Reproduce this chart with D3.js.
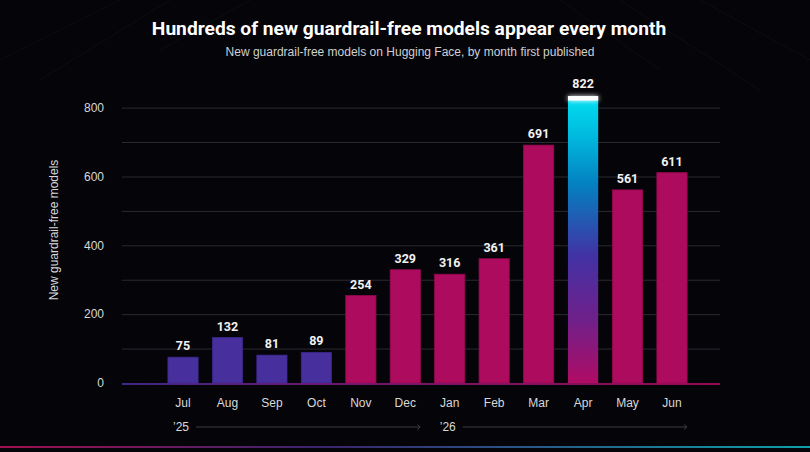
<!DOCTYPE html>
<html>
<head>
<meta charset="utf-8">
<script src="https://cdn.jsdelivr.net/npm/d3@7"></script>
<style>
  html, body { margin: 0; padding: 0; background: #050409; }
  #chart { width: 810px; height: 452px; }
  .axisText { fill: #d8d8d8; font-family: "Liberation Sans", Arial, sans-serif; font-size: 12px; }
</style>
</head>
<body>
<div id="chart"></div>
<script>
// data
var months = ["Jul", "Aug", "Sep", "Oct", "Nov", "Dec", "Jan", "Feb", "Mar", "Apr", "May", "Jun"];
var counts = [75, 132, 81, 89, 254, 329, 316, 361, 691, 822, 561, 611];
var yearOf = ["2025", "2025", "2025", "2025", "2025", "2025", "2026", "2026", "2026", "2026", "2026", "2026"];
var yTicks = [0, 200, 400, 600, 800];
var gridTicks = [100, 200, 300, 400, 500, 600, 700, 800];
var yearLabels = ["\u201925", "\u201926"];
var peakMonth = "Apr";

var svgWidth = 810;
var svgHeight = 452;

var svg = d3.select("#chart")
    .append("svg")
    .attr("width", svgWidth)
    .attr("height", svgHeight);

var defs = svg.append("defs");

// gradients
var yAxisGrad = defs.append("linearGradient").attr("id", "yAxisGrad")
    .attr("x1", 0).attr("y1", 0).attr("x2", 0).attr("y2", 1);
yAxisGrad.append("stop").attr("offset", "0%").attr("stop-color", "#c8106c");
yAxisGrad.append("stop").attr("offset", "100%").attr("stop-color", "#4a30a8");

var xAxisGrad = defs.append("linearGradient").attr("id", "xAxisGrad")
    .attr("gradientUnits", "userSpaceOnUse")
    .attr("x1", 122).attr("y1", 0).attr("x2", 720).attr("y2", 0);
xAxisGrad.append("stop").attr("offset", "0%").attr("stop-color", "#4a30a8");
xAxisGrad.append("stop").attr("offset", "40%").attr("stop-color", "#8a1a80");
xAxisGrad.append("stop").attr("offset", "100%").attr("stop-color", "#b80c62");

var peakGrad = defs.append("linearGradient").attr("id", "peakGrad")
    .attr("x1", 0).attr("y1", 0).attr("x2", 0).attr("y2", 1);
peakGrad.append("stop").attr("offset", "0%").attr("stop-color", "#00dcee");
peakGrad.append("stop").attr("offset", "12%").attr("stop-color", "#00bce0");
peakGrad.append("stop").attr("offset", "30%").attr("stop-color", "#0480c0");
peakGrad.append("stop").attr("offset", "55%").attr("stop-color", "#4232a4");
peakGrad.append("stop").attr("offset", "78%").attr("stop-color", "#70208a");
peakGrad.append("stop").attr("offset", "100%").attr("stop-color", "#b00c64");

var bottomGrad = defs.append("linearGradient").attr("id", "bottomGrad")
    .attr("x1", 0).attr("y1", 0).attr("x2", 1).attr("y2", 0);
bottomGrad.append("stop").attr("offset", "0%").attr("stop-color", "#a0104e");
bottomGrad.append("stop").attr("offset", "40%").attr("stop-color", "#3a2470");
bottomGrad.append("stop").attr("offset", "100%").attr("stop-color", "#0ea0a8");

var glow = defs.append("filter").attr("id", "glow")
    .attr("x", "-50%").attr("y", "-200%").attr("width", "200%").attr("height", "500%");
glow.append("feGaussianBlur").attr("stdDeviation", 2.5).attr("result", "blur");
var merge = glow.append("feMerge");
merge.append("feMergeNode").attr("in", "blur");
merge.append("feMergeNode").attr("in", "SourceGraphic");

// background
svg.append("rect").attr("width", svgWidth).attr("height", svgHeight).attr("fill", "#050409");

// faint diagonal lines in background
var bgLines = [[0, 60, 120, 0], [40, 80, 170, 0], [560, 0, 660, 70], [620, 0, 760, 90], [700, 0, 810, 60], [250, 0, 160, 50]];
svg.selectAll(".bgLine")
    .data(bgLines)
    .enter()
    .append("line")
    .attr("x1", d => d[0]).attr("y1", d => d[1])
    .attr("x2", d => d[2]).attr("y2", d => d[3])
    .attr("stroke", "#0e0d13")
    .attr("stroke-width", 1);

// scales
var plotLeft = 122;
var plotRight = 720;

var xScale = d3.scaleBand()
    .domain(months)
    .range([160.8, 694.2])
    .paddingInner(0.32)
    .paddingOuter(0.16);

var yScale = d3.scaleLinear()
    .domain([0, 886])
    .range([383, 78]);

// gridlines
svg.append("g")
    .attr("transform", `translate(${plotLeft}, 0)`)
    .call(d3.axisLeft(yScale).tickValues(gridTicks).tickSize(-(plotRight - plotLeft)).tickFormat(""))
    .call(g => g.select(".domain").remove())
    .call(g => g.selectAll("line").attr("stroke", "#2a2a30").attr("stroke-width", 1));

// y tick labels
svg.append("g")
    .attr("transform", `translate(${plotLeft}, 0)`)
    .call(d3.axisLeft(yScale).tickValues(yTicks).tickSize(0).tickPadding(18))
    .call(g => g.select(".domain").remove())
    .call(g => g.selectAll("text").attr("class", "axisText").attr("font-size", null).attr("font-family", null));

// bars
svg.selectAll(".bar")
    .data(months)
    .enter()
    .append("rect")
    .attr("class", "bar")
    .attr("x", d => xScale(d))
    .attr("width", xScale.bandwidth())
    .attr("y", (d, i) => yScale(counts[i]))
    .attr("height", (d, i) => yScale(0) - yScale(counts[i]))
    .attr("fill", (d, i) => d === peakMonth ? "url(#peakGrad)" : (i < 4 ? "#47309e" : "#ad0b5d"))
    .attr("stroke", (d, i) => d === peakMonth ? "none" : (i < 4 ? "#3a2788" : "#95084f"))
    .attr("stroke-width", 0.8);

// white cap with glow on the peak bar
var peakIdx = months.indexOf(peakMonth);
svg.append("rect")
    .attr("x", xScale(peakMonth))
    .attr("y", yScale(counts[peakIdx]) - 4)
    .attr("width", xScale.bandwidth())
    .attr("height", 4.5)
    .attr("fill", "#ffffff")
    .attr("filter", "url(#glow)");

// value labels
svg.selectAll(".valueLabel")
    .data(months)
    .enter()
    .append("text")
    .attr("x", d => xScale(d) + xScale.bandwidth() / 2)
    .attr("y", (d, i) => yScale(counts[i]) - (d === peakMonth ? 12 : 7))
    .attr("text-anchor", "middle")
    .attr("fill", "#f2f2f2")
    .attr("font-family", "Roboto, sans-serif")
    .attr("font-weight", "bold")
    .attr("font-size", 12.5)
    .text((d, i) => counts[i]);

// axis lines
svg.append("line")
    .attr("x1", plotLeft).attr("x2", plotLeft)
    .attr("y1", 78).attr("y2", 384)
    .attr("stroke", "url(#yAxisGrad)")
    .attr("stroke-width", 1.6);

svg.append("rect")
    .attr("x", plotLeft).attr("y", 383.2)
    .attr("width", plotRight - plotLeft).attr("height", 1.6)
    .attr("fill", "url(#xAxisGrad)");

// month labels
svg.append("g")
    .attr("transform", "translate(0, 384)")
    .call(d3.axisBottom(xScale).tickSize(0).tickPadding(14))
    .call(g => g.select(".domain").remove())
    .call(g => g.selectAll("text").attr("class", "axisText").attr("font-size", null).attr("font-family", null));

// year labels with arrows
var years = Array.from(new Set(yearOf));
years.forEach(function(yr, k) {
    var ms = months.filter((m, i) => yearOf[i] === yr);
    var first = xScale(ms[0]) + xScale.bandwidth() / 2;
    var last = xScale(ms[ms.length - 1]) + xScale.bandwidth() / 2;
    var x0 = first - 10;
    var x1 = last + 15;
    svg.append("text")
        .attr("class", "axisText")
        .attr("x", x0)
        .attr("y", 431)
        .text(yearLabels[k]);
    svg.append("line")
        .attr("x1", x0 + 23).attr("x2", x1)
        .attr("y1", 427).attr("y2", 427)
        .attr("stroke", "#3a3a40")
        .attr("stroke-width", 1);
    svg.append("path")
        .attr("d", `M${x1 - 3},${424.5} L${x1},427 L${x1 - 3},${429.5}`)
        .attr("fill", "none")
        .attr("stroke", "#3a3a40")
        .attr("stroke-width", 1);
});

// y axis title
svg.append("text")
    .attr("class", "axisText")
    .attr("transform", "translate(58, 230) rotate(-90)")
    .attr("text-anchor", "middle")
    .text("New guardrail-free models");

// titles
svg.append("text")
    .attr("x", 409)
    .attr("y", 35)
    .attr("text-anchor", "middle")
    .attr("fill", "#ffffff")
    .attr("font-family", "Roboto, sans-serif")
    .attr("font-weight", "bold")
    .attr("font-size", 19.2)
    .text("Hundreds of new guardrail-free models appear every month");

svg.append("text")
    .attr("x", 410)
    .attr("y", 56)
    .attr("text-anchor", "middle")
    .attr("fill", "#d0d0d0")
    .attr("font-family", "'Liberation Sans', Arial, sans-serif")
    .attr("font-size", 12)
    .text("New guardrail-free models on Hugging Face, by month first published");

// bottom accent line
svg.append("rect")
    .attr("x", 0).attr("y", 446)
    .attr("width", svgWidth).attr("height", 2)
    .attr("fill", "url(#bottomGrad)");
</script>
</body>
</html>
